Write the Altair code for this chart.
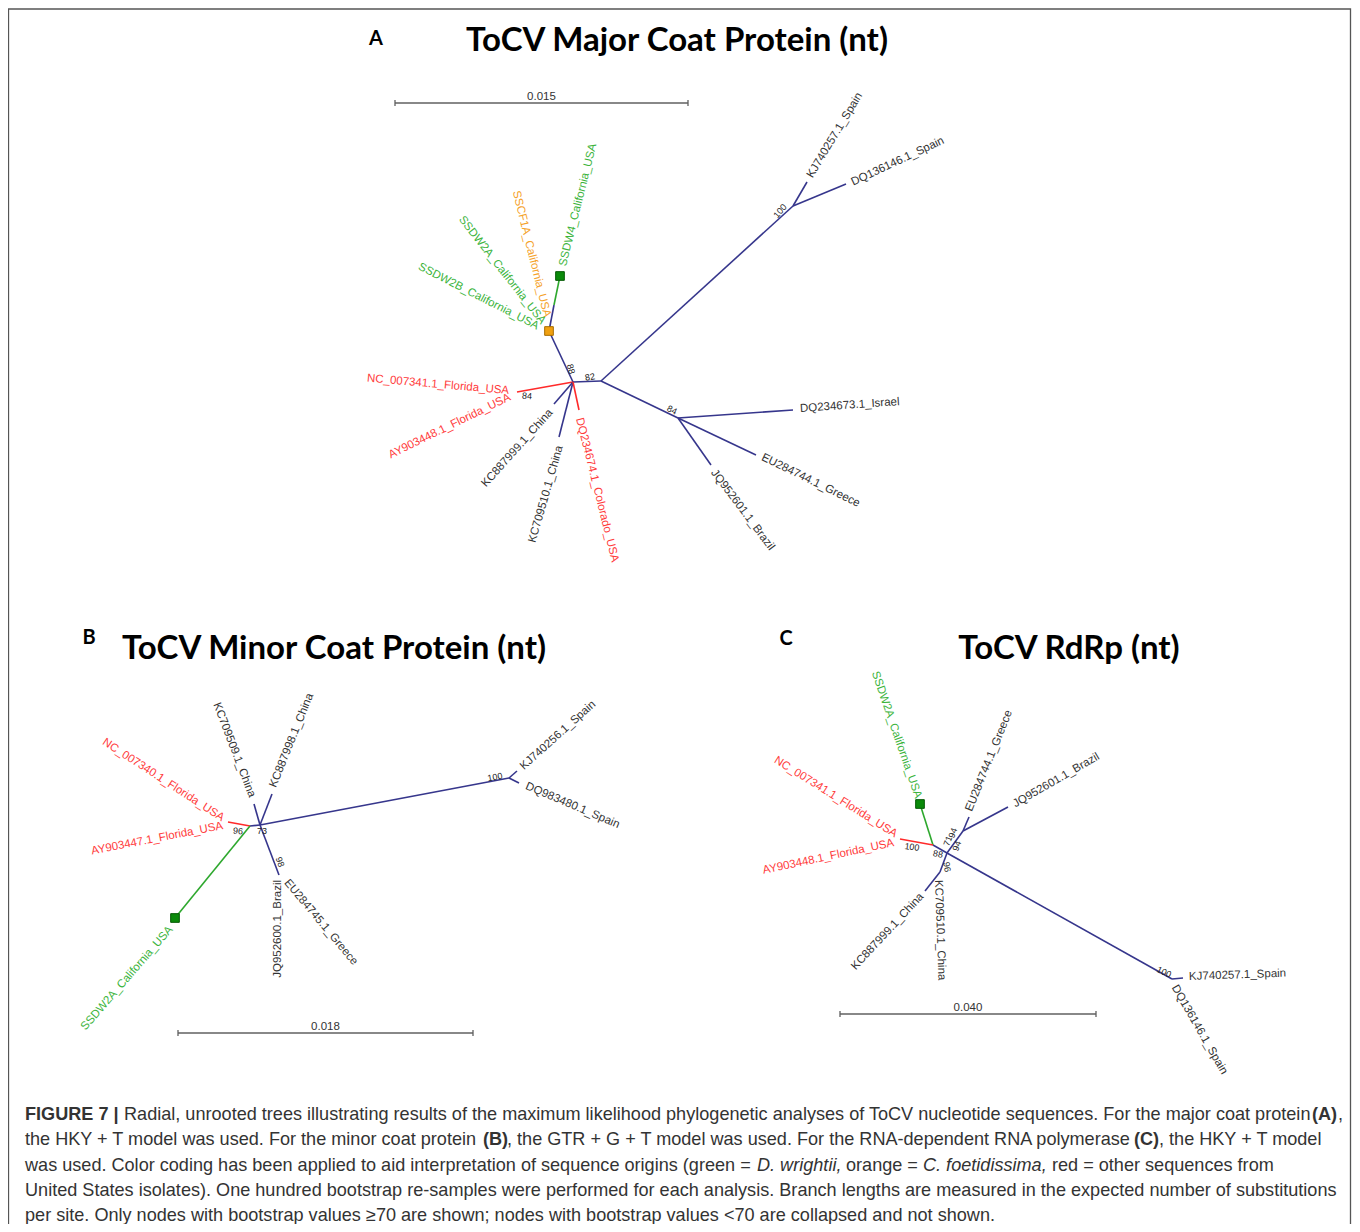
import altair as alt
import pandas as pd

# ---------------- colours ----------------
COL = {
    "navy": "#36368c",
    "red": "#ff2a2a",
    "green": "#2ea82e",
    "lred": "#ff3b3b",
    "lgreen": "#3cb43c",
    "orange": "#f5a22a",
    "dark": "#333333",
}

# ---------------- Panel A: ToCV Major Coat Protein ----------------
A_nodes = {
    "c": (573, 382), "n82": (601, 381), "n100": (793, 206), "KJ": (807, 182),
    "DQ136": (846, 184), "n84": (678, 418), "IL": (793, 410), "GR": (756, 455),
    "BR": (711, 465), "sscf": (549, 331), "n4": (554, 305), "ss4": (560, 276),
    "fl": (517, 392), "KC887": (554, 404), "KC709": (559, 437), "CO": (579, 410),
}
A_edges = [
    ("c", "n82", "navy"), ("n82", "n100", "navy"), ("n100", "KJ", "navy"),
    ("n100", "DQ136", "navy"), ("n82", "n84", "navy"), ("n84", "IL", "navy"),
    ("n84", "GR", "navy"), ("n84", "BR", "navy"), ("c", "sscf", "navy"),
    ("sscf", "n4", "navy"), ("n4", "ss4", "green"), ("c", "fl", "red"),
    ("c", "KC887", "navy"), ("c", "KC709", "navy"), ("c", "CO", "red"),
]
A_labels = [  # text, x, y, angle, align, colour
    ("SSDW4_California_USA", 563, 266, 284, "left", "lgreen"),
    ("KJ740257.1_Spain", 810, 177, 301, "left", "dark"),
    ("DQ136146.1_Spain", 852, 183, 335, "left", "dark"),
    ("DQ234673.1_Israel", 800, 409, 356, "left", "dark"),
    ("EU284744.1_Greece", 762, 457, 26, "left", "dark"),
    ("JQ952601.1_Brazil", 713, 471, 53, "left", "dark"),
    ("DQ234674.1_Colorado_USA", 579, 418, 76, "left", "lred"),
    ("SSCF1A_California_USA", 547, 317, 76, "right", "orange"),
    ("SSDW2A_California_USA", 543, 323, 52, "right", "lgreen"),
    ("SSDW2B_California_USA", 538, 327, 27, "right", "lgreen"),
    ("NC_007341.1_Florida_USA", 509, 391, 5, "right", "lred"),
    ("AY903448.1_Florida_USA", 510, 397, 334, "right", "lred"),
    ("KC887999.1_China", 551, 411, 312, "right", "dark"),
    ("KC709510.1_China", 560, 446, 286, "right", "dark"),
]
A_boot = [("88", 571, 369, 75), ("82", 590, 377, 350), ("84", 527, 396, 5),
          ("100", 780, 211, 310), ("84", 672, 410, 25)]
A_squares = [(549, 331, "#f0a010", "#a86c00"), (560, 276, "#0a8a0a", "#055a05")]
A_bar = (395, 688, 103, "0.015")

# ---------------- Panel B: ToCV Minor Coat Protein ----------------
B_nodes = {
    "c": (260, 825), "n96": (250, 826), "fl": (228, 822), "ss2a": (175, 918),
    "KC709": (254, 804), "KC887": (272, 794), "n98": (279, 875),
    "n100": (509, 778), "KJ": (517, 771), "DQ983": (519, 783),
}
B_edges = [
    ("c", "n100", "navy"), ("n100", "KJ", "navy"), ("n100", "DQ983", "navy"),
    ("c", "KC709", "navy"), ("c", "KC887", "navy"), ("c", "n98", "navy"),
    ("c", "n96", "navy"), ("n96", "fl", "red"), ("n96", "ss2a", "green"),
]
B_labels = [
    ("KJ740256.1_Spain", 522, 768, 318, "left", "dark"),
    ("DQ983480.1_Spain", 526, 786, 23, "left", "dark"),
    ("KC887998.1_China", 273, 787, 292, "left", "dark"),
    ("EU284745.1_Greece", 286, 881, 50, "left", "dark"),
    ("NC_007340.1_Florida_USA", 223, 819, 33, "right", "lred"),
    ("AY903447.1_Florida_USA", 223, 826, 349, "right", "lred"),
    ("KC709509.1_China", 252, 797, 69, "right", "dark"),
    ("JQ952600.1_Brazil", 278, 880, 270, "right", "dark"),
    ("SSDW2A_California_USA", 171, 928, 311, "right", "lgreen"),
]
B_boot = [("100", 495, 777, 350), ("96", 238, 831, 5), ("73", 262, 831, 0),
          ("98", 280, 862, 70)]
B_squares = [(175, 918, "#0a8a0a", "#055a05")]
B_bar = (178, 473, 1033, "0.018")

# ---------------- Panel C: ToCV RdRp ----------------
C_nodes = {
    "c": (947, 853), "n88": (933, 845), "sq": (920, 804), "fl": (900, 839),
    "nup": (963, 831), "EU": (969, 817), "JQ": (1008, 807), "ndn": (940, 872),
    "KC887": (925, 891), "n100": (1172, 979), "KJ": (1183, 978),
}
C_edges = [
    ("c", "n88", "navy"), ("n88", "sq", "green"), ("n88", "fl", "red"),
    ("c", "nup", "navy"), ("nup", "EU", "navy"), ("nup", "JQ", "navy"),
    ("c", "ndn", "navy"), ("ndn", "KC887", "navy"), ("c", "n100", "navy"),
    ("n100", "KJ", "navy"),
]
C_labels = [
    ("SSDW2A_California_USA", 918, 798, 71, "right", "lgreen"),
    ("NC_007341.1_Florida_USA", 896, 835, 32, "right", "lred"),
    ("AY903448.1_Florida_USA", 894, 843, 348, "right", "lred"),
    ("KC887999.1_China", 922, 895, 313, "right", "dark"),
    ("EU284744.1_Greece", 969, 811, 292, "left", "dark"),
    ("JQ952601.1_Brazil", 1014, 805, 330, "left", "dark"),
    ("KC709510.1_China", 938, 880, 88, "left", "dark"),
    ("KJ740257.1_Spain", 1189, 977, 358, "left", "dark"),
    ("DQ136146.1_Spain", 1174, 986, 60, "left", "dark"),
]
C_boot = [("100", 912, 847, 8), ("88", 938, 854, 10), ("94", 953, 833, 290),
          ("71", 948, 841, 290), ("94", 957, 846, 290), ("96", 947, 867, 80),
          ("100", 1164, 972, 25)]
C_squares = [(920, 804, "#0a8a0a", "#055a05")]
C_bar = (840, 1096, 1014, "0.040")

# ---------------- titles ----------------
titles = [("ToCV Major Coat Protein (nt)", 677, 41), ("ToCV Minor Coat Protein (nt)", 334, 649),
          ("ToCV RdRp (nt)", 1069, 649)]
letters = [("A", 376, 39), ("B", 89, 638), ("C", 786, 639)]

# ---------------- caption ----------------
caption = [  # text, x, y, weight, style
    ("FIGURE 7 |", 25, 1115, "bold", "normal"),
    ("Radial, unrooted trees illustrating results of the maximum likelihood phylogenetic analyses of ToCV nucleotide sequences. For the major coat protein", 124, 1115, "normal", "normal"),
    ("(A)", 1312, 1115, "bold", "normal"),
    (",", 1338, 1115, "normal", "normal"),
    ("the HKY + T model was used. For the minor coat protein", 25, 1140, "normal", "normal"),
    ("(B)", 483, 1140, "bold", "normal"),
    (", the GTR + G + T model was used. For the RNA-dependent RNA polymerase", 507, 1140, "normal", "normal"),
    ("(C)", 1134, 1140, "bold", "normal"),
    (", the HKY + T model", 1159, 1140, "normal", "normal"),
    ("was used. Color coding has been applied to aid interpretation of sequence origins (green =", 25, 1166, "normal", "normal"),
    ("D. wrightii,", 757, 1166, "normal", "italic"),
    ("orange =", 846, 1166, "normal", "normal"),
    ("C. foetidissima,", 923, 1166, "normal", "italic"),
    ("red = other sequences from", 1052, 1166, "normal", "normal"),
    ("United States isolates). One hundred bootstrap re-samples were performed for each analysis. Branch lengths are measured in the expected number of substitutions", 25, 1191, "normal", "normal"),
    ("per site. Only nodes with bootstrap values \u226570 are shown; nodes with bootstrap values <70 are collapsed and not shown.", 25, 1216, "normal", "normal"),
]

frame = (8.5, 1350.5, 9, 1300)

# ---------------- build tables ----------------
XS = alt.Scale(domain=[8, 1352], nice=False, zero=False)
YS = alt.Scale(domain=[8, 1224], nice=False, zero=False, reverse=True)

edge_rows, label_rows, boot_rows, sq_rows, bar_rows, barlab_rows = [], [], [], [], [], []
for nodes, edges, labels, boots, squares, bar in [
    (A_nodes, A_edges, A_labels, A_boot, A_squares, A_bar),
    (B_nodes, B_edges, B_labels, B_boot, B_squares, B_bar),
    (C_nodes, C_edges, C_labels, C_boot, C_squares, C_bar),
]:
    for a, b, c in edges:
        edge_rows.append({"x": nodes[a][0], "y": nodes[a][1], "x2": nodes[b][0], "y2": nodes[b][1], "color": COL[c]})
    for t, x, y, ang, al, c in labels:
        label_rows.append({"text": t, "x": x, "y": y, "angle": ang, "align": al, "color": COL[c]})
    for t, x, y, ang in boots:
        boot_rows.append({"text": t, "x": x, "y": y, "angle": ang})
    for x, y, f, s in squares:
        sq_rows.append({"x": x, "y": y, "fill": f, "stroke": s})
    x1, x2, yb, t = bar
    bar_rows.append({"x": x1, "y": yb, "x2": x2, "y2": yb})
    bar_rows.append({"x": x1, "y": yb - 3, "x2": x1, "y2": yb + 3})
    bar_rows.append({"x": x2, "y": yb - 3, "x2": x2, "y2": yb + 3})
    barlab_rows.append({"text": t, "x": (x1 + x2) / 2, "y": yb - 1})

edges_df = pd.DataFrame(edge_rows)
labels_df = pd.DataFrame(label_rows)
boot_df = pd.DataFrame(boot_rows)
sq_df = pd.DataFrame(sq_rows)
bar_df = pd.DataFrame(bar_rows)
barlab_df = pd.DataFrame(barlab_rows)
titles_df = pd.DataFrame(titles, columns=["text", "x", "y"])
letters_df = pd.DataFrame(letters, columns=["text", "x", "y"])
cap_df = pd.DataFrame(caption, columns=["text", "x", "y", "weight", "style"])
frame_df = pd.DataFrame([{"x": frame[0], "x2": frame[1], "y": frame[2], "y2": frame[3]}])

X = lambda f="x": alt.X(f"{f}:Q", scale=XS, axis=None)
Y = lambda f="y": alt.Y(f"{f}:Q", scale=YS, axis=None)

frame_layer = alt.Chart(frame_df).mark_rect(fillOpacity=0, stroke="#555555", strokeWidth=1.3).encode(
    x=X(), x2="x2:Q", y=Y(), y2="y2:Q")

edge_layer = alt.Chart(edges_df).mark_rule(strokeWidth=1.6).encode(
    x=X(), y=Y(), x2="x2:Q", y2="y2:Q", color=alt.Color("color:N", scale=None))

bar_layer = alt.Chart(bar_df).mark_rule(strokeWidth=1.3, color="#606060").encode(
    x=X(), y=Y(), x2="x2:Q", y2="y2:Q")

barlab_layer = alt.Chart(barlab_df).mark_text(fontSize=11.5, font="Liberation Sans", color="#333333",
                                              baseline="bottom", align="center").encode(
    x=X(), y=Y(), text="text:N")

sq_layer = alt.Chart(sq_df).mark_square(size=75, opacity=1, strokeWidth=1).encode(
    x=X(), y=Y(), fill=alt.Fill("fill:N", scale=None), stroke=alt.Stroke("stroke:N", scale=None))


def label_layer(align):
    return alt.Chart(labels_df).transform_filter(alt.datum.align == align).mark_text(
        align=align, baseline="middle", fontSize=11.5, font="Liberation Sans"
    ).encode(x=X(), y=Y(), text="text:N", angle=alt.Angle("angle:Q", scale=None),
             color=alt.Color("color:N", scale=None))


boot_layer = alt.Chart(boot_df).mark_text(fontSize=9, font="Liberation Sans", color="#222222",
                                          align="center", baseline="middle").encode(
    x=X(), y=Y(), text="text:N", angle=alt.Angle("angle:Q", scale=None))

title_layer = alt.Chart(titles_df).mark_text(fontSize=33, font="Lato", fontWeight="bold", color="#000000",
                                             align="center", baseline="middle").encode(
    x=X(), y=Y(), text="text:N")

letter_layer = alt.Chart(letters_df).mark_text(fontSize=20, font="Lato", fontWeight="bold", color="#000000",
                                               align="center", baseline="middle").encode(
    x=X(), y=Y(), text="text:N")


def cap_layer(weight, style):
    return alt.Chart(cap_df).transform_filter(
        (alt.datum.weight == weight) & (alt.datum.style == style)
    ).mark_text(fontSize=18.1, font="Liberation Sans", fontWeight=weight, fontStyle=style,
                color="#333333", align="left", baseline="middle").encode(
        x=X(), y=Y(), text="text:N")


chart = alt.layer(
    frame_layer, edge_layer, bar_layer, barlab_layer, sq_layer,
    label_layer("left"), label_layer("right"), boot_layer,
    title_layer, letter_layer,
    cap_layer("normal", "normal"), cap_layer("bold", "normal"), cap_layer("normal", "italic"),
).properties(width=1344, height=1216, padding=0, autosize=alt.AutoSizeParams(type="none")
).configure_view(stroke=None)

chart.save("out.html", embed_options={"renderer": "svg", "actions": False})
